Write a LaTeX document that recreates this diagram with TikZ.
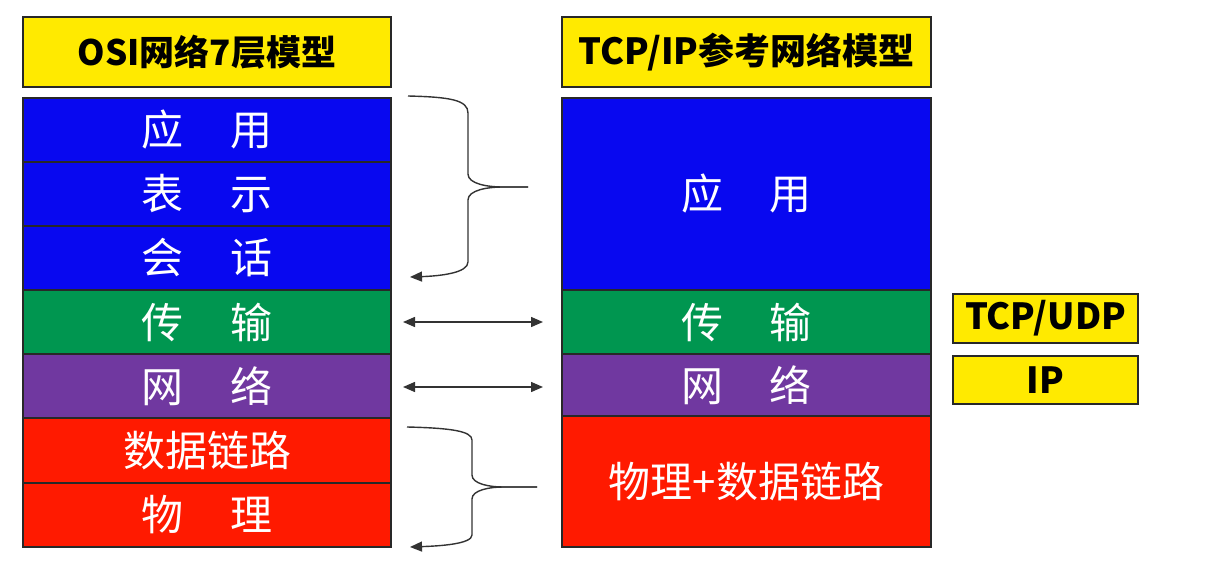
\documentclass[tikz,border=0pt]{standalone}
\usepackage{fontspec}
\setmainfont{Noto Sans CJK SC}
\usetikzlibrary{arrows.meta}
\definecolor{lblue}{RGB}{8,8,240}
\definecolor{lgreen}{RGB}{0,150,80}
\definecolor{lpurple}{RGB}{112,56,160}
\definecolor{lred}{RGB}{255,26,0}
\definecolor{lyellow}{RGB}{255,234,0}
\definecolor{edge}{RGB}{40,40,40}
\tikzset{
  layer/.style={draw=edge, line width=1.2pt, inner sep=0pt, text=white, font=\fontsize{42}{46}\selectfont},
  title/.style={draw=edge, line width=1.2pt, fill=lyellow, inner sep=0pt, font=\bfseries\fontsize{35}{38}\selectfont},
  conn/.style={draw=black!80, line width=1.4pt},
  tip/.style={-{Triangle[length=12pt,width=10pt]}},
  dtip/.style={{Triangle[length=12pt,width=10pt]}-{Triangle[length=12pt,width=10pt]}},
}
\newcommand{\gapp}{\hspace{1.1em}}
\begin{document}
\begin{tikzpicture}[x=1pt,y=-1pt]
\useasboundingbox (0,0) rectangle (1227,562);
% left column
\node[title, minimum width=368pt, minimum height=70pt] (T1) at (207,52) {OSI网络7层模型};
\node[layer, fill=lblue, minimum width=368pt, minimum height=64pt] (L1) at (207,130) {应\gapp 用};
\node[layer, fill=lblue, minimum width=368pt, minimum height=64pt] (L2) at (207,194) {表\gapp 示};
\node[layer, fill=lblue, minimum width=368pt, minimum height=64pt] (L3) at (207,258) {会\gapp 话};
\node[layer, fill=lgreen, minimum width=368pt, minimum height=64pt] (L4) at (207,322) {传\gapp 输};
\node[layer, fill=lpurple, minimum width=368pt, minimum height=64pt] (L5) at (207,386) {网\gapp 络};
\node[layer, fill=lred, minimum width=368pt, minimum height=65pt] (L6) at (207,450.5) {数据链路};
\node[layer, fill=lred, minimum width=368pt, minimum height=64pt] (L7) at (207,515) {物\gapp 理};
% right column
\node[title, minimum width=369pt, minimum height=70pt, font=\bfseries\fontsize{36}{40}\selectfont] (T2) at (746.5,52) {TCP/IP参考网络模型};
\node[layer, fill=lblue, minimum width=369pt, minimum height=192pt] (R1) at (746.5,194) {应\gapp 用};
\node[layer, fill=lgreen, minimum width=369pt, minimum height=64pt] (R2) at (746.5,322) {传\gapp 输};
\node[layer, fill=lpurple, minimum width=369pt, minimum height=62pt] (R3) at (746.5,385) {网\gapp 络};
\node[layer, fill=lred, minimum width=369pt, minimum height=131pt] (R4) at (746.5,481.5) {物理+数据链路};
% protocol boxes
\node[title, minimum width=185pt, minimum height=49pt, font=\bfseries\fontsize{36}{40}\selectfont] (P1) at (1045.5,318.5) {TCP/UDP};
\node[title, minimum width=185pt, minimum height=48pt, font=\bfseries\fontsize{36}{40}\selectfont] (P2) at (1045.5,380) {IP};
% connector coordinates
\coordinate (b1s) at (408,96);
\coordinate (b1t) at (528,187);
\coordinate (b1e) at (410,277);
\coordinate (b2s) at (407,427);
\coordinate (b2t) at (537,487);
\coordinate (b2e) at (410,547);
% upper brace
\draw[conn] (b1s) .. controls (450,97) and (468,100) .. (468,113) -- (468,174)
  .. controls (468,184) and (488,187) .. (503,187) -- (b1t);
\draw[conn, tip] (b1t) -- (503,187) .. controls (488,187) and (468,190) .. (468,200) -- (468,262)
  .. controls (468,273) and (440,276) .. (b1e);
% lower brace
\draw[conn] (b2s) .. controls (450,428) and (472,431) .. (472,440) -- (472,475)
  .. controls (472,484) and (490,487) .. (503,487) -- (b2t);
\draw[conn, tip] (b2t) -- (503,487) .. controls (490,487) and (472,490) .. (472,499) -- (472,535)
  .. controls (472,544) and (440,546) .. (b2e);
% double arrows
\coordinate (a1l) at (403,322);
\coordinate (a1r) at (543,322);
\coordinate (a2l) at (403,387);
\coordinate (a2r) at (543,387);
\draw[conn, dtip] (a1l) -- (a1r);
\draw[conn, dtip] (a2l) -- (a2r);
\end{tikzpicture}
\end{document}
